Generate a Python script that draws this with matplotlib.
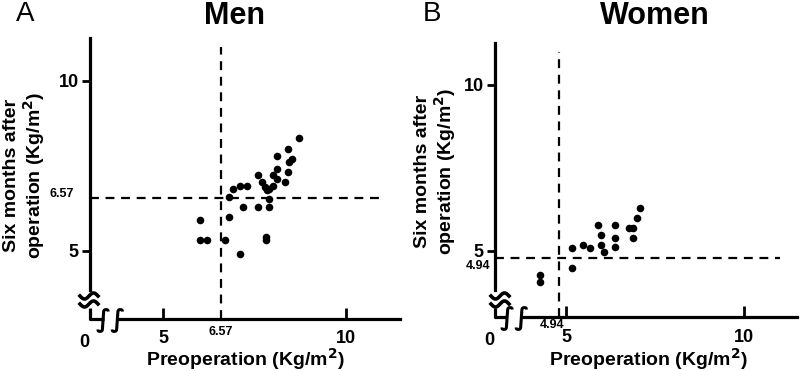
import matplotlib
matplotlib.use("Agg")
import matplotlib.pyplot as plt
import numpy as np

plt.rcParams['font.family'] = ['Liberation Sans', 'DejaVu Sans']
plt.rcParams['font.weight'] = 'bold'

# values (Kg/m2)
men_pre = [8.70, 8.41, 8.10, 8.51, 8.43, 8.12, 8.41, 7.60, 8.00, 8.10, 7.69,
           8.32, 8.01, 7.78, 7.89, 7.83, 7.10, 7.30, 6.91, 6.80, 7.89, 7.19,
           7.60, 7.89, 6.80, 6.01, 6.01, 6.20, 6.69, 7.80, 7.80, 7.10]
men_post = [8.31, 8.00, 7.80, 7.71, 7.61, 7.41, 7.31, 7.22, 7.22, 7.12, 7.02,
            7.02, 6.92, 6.89, 6.82, 6.79, 6.92, 6.92, 6.81, 6.60, 6.52, 6.30,
            6.30, 6.30, 6.01, 5.91, 5.32, 5.32, 5.32, 5.42, 5.32, 4.91]
women_pre = [7.08, 6.99, 6.77, 6.89, 6.89, 5.91, 6.38, 5.98, 6.38, 5.98, 6.38,
             6.08, 5.67, 5.47, 5.16, 5.16, 4.27, 4.27]
women_post = [6.29, 5.98, 5.68, 5.68, 5.38, 5.78, 5.78, 5.48, 5.38, 5.18, 5.13,
              4.98, 5.08, 5.18, 5.08, 4.48, 4.28, 4.08]

men_cut = 6.57
women_cut = 4.94
women_cut_drawn = 4.8   # where the dashed lines sit in the figure

W, H = 800, 371
fig = plt.figure(figsize=(W / 100, H / 100), dpi=100)


def px(x, y):
    return x / W, 1 - y / H


def wave_break(cx, cy):
    # the "≈" mark on the y axis, drawn as two thick waves (pixel coords)
    t = np.linspace(-9, 9, 40)
    for dy in (-4, 4):
        xs = cx + t
        ys = cy + dy - 3 * np.sin(t / 9 * np.pi)
        fig.add_artist(plt.Line2D(xs / W, 1 - ys / H, color='black', lw=2.6,
                                  transform=fig.transFigure))


def panel(rect, pre, post, cut_pos, xmax, ymax, xbrk, ybrk):
    ax = fig.add_axes(rect)
    ax.scatter(pre, post, s=30, color='black', linewidths=0, zorder=3)
    ax.set_xlim(3, xmax)
    ax.set_ylim(3, ymax)
    for s in ['top', 'right']:
        ax.spines[s].set_visible(False)
    for s in ['left', 'bottom']:
        ax.spines[s].set_linewidth(2.3)
    ax.spines['left'].set_bounds(ybrk[1], ymax)
    ax.spines['bottom'].set_bounds(xbrk[1], xmax)
    # short pieces at the corner, below / left of the breaks
    ax.plot([3, 3, xbrk[0]], [ybrk[0], 3, 3], color='black', lw=2.3,
            clip_on=False, solid_capstyle='butt')
    ax.set_xticks([5, 10])
    ax.set_yticks([5, 10])
    ax.tick_params(axis='x', direction='in', length=8, width=2, labelsize=13, pad=8)
    ax.tick_params(axis='y', direction='out', length=6, width=2, labelsize=13, pad=2)
    ax.plot([cut_pos, cut_pos], [3, 11.0], color='black', lw=1.6, dashes=(4, 3))
    ax.plot([3, 11.0], [cut_pos, cut_pos], color='black', lw=1.6, dashes=(4, 3))
    ax.text(2.85, 2.55, '0', ha='center', va='top', fontsize=13, clip_on=False)
    ax.text((xbrk[0] + xbrk[1]) / 2, 2.95, '\u222b\u222b', ha='center', va='center',
            fontsize=18, family='DejaVu Sans', fontweight='bold', clip_on=False)
    return ax


axA = panel([90 / W, 1 - 319 / H, 310 / W, 281 / H], men_pre, men_post,
            men_cut, 11.47, 11.26, (3.37, 3.78), (3.32, 3.85))
axA.text(men_cut, 2.62, f'{men_cut:.2f}', ha='center', va='center', fontsize=9)
axA.text(2.55, men_cut + 0.1, f'{men_cut:.2f}', ha='right', va='center', fontsize=9)
wave_break(89, 300)

axB = panel([494.8 / W, 1 - 317.4 / H, 302.6 / W, 274.4 / H], women_pre, women_post,
            women_cut_drawn, 11.5, 11.26, (3.34, 3.79), (3.28, 3.83))
axB.text(women_cut_drawn - 0.2, 2.77, f'{women_cut:.2f}', ha='center', va='center', fontsize=9)
axB.text(2.88, women_cut_drawn - 0.25, f'{women_cut:.2f}', ha='right', va='center', fontsize=9)
wave_break(500, 300)

# titles and panel letters
fig.text(*px(235, 16), 'Men', ha='center', va='center', fontsize=22)
fig.text(*px(655, 16), 'Women', ha='center', va='center', fontsize=22)
fig.text(*px(25, 14), 'A', ha='center', va='center', fontsize=20, fontweight='normal')
fig.text(*px(432, 14), 'B', ha='center', va='center', fontsize=20, fontweight='normal')

ylab = 'Six months after\noperation (Kg/m$^\\mathbf{2}$)'
xlab = 'Preoperation (Kg/m$^\\mathbf{2}$)'
fig.text(*px(25, 175), ylab, rotation=90, ha='center', va='center', fontsize=14,
         multialignment='center', linespacing=1.1)
fig.text(*px(436, 171), ylab, rotation=90, ha='center', va='center', fontsize=14,
         multialignment='center', linespacing=1.1)
fig.text(*px(245, 359), xlab, ha='center', va='center', fontsize=14)
fig.text(*px(648, 359), xlab, ha='center', va='center', fontsize=14)

fig.savefig('out.png', dpi=100)
